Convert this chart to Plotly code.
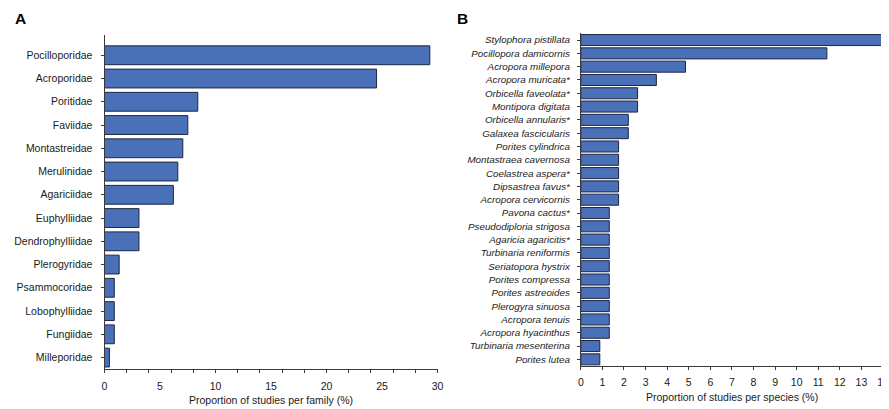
import plotly.graph_objects as go

# ---- Data ----
families = ["Pocilloporidae", "Acroporidae", "Poritidae", "Faviidae", "Montastreidae",
            "Merulinidae", "Agariciidae", "Euphylliidae", "Dendrophylliidae", "Plerogyridae",
            "Psammocoridae", "Lobophylliidae", "Fungiidae", "Milleporidae"]
family_pct = [29.3, 24.5, 8.4, 7.5, 7.05, 6.6, 6.2, 3.1, 3.1, 1.32, 0.88, 0.88, 0.88, 0.44]

species = ["Stylophora pistillata", "Pocillopora damicornis", "Acropora millepora",
           "Acropora muricata*", "Orbicella faveolata*", "Montipora digitata",
           "Orbicella annularis*", "Galaxea fascicularis", "Porites cylindrica",
           "Montastraea cavernosa", "Coelastrea aspera*", "Dipsastrea favus*",
           "Acropora cervicornis", "Pavona cactus*", "Pseudodiploria strigosa",
           "Agaricia agaricitis*", "Turbinaria reniformis", "Seriatopora hystrix",
           "Porites compressa", "Porites astreoides", "Plerogyra sinuosa",
           "Acropora tenuis", "Acropora hyacinthus", "Turbinaria mesenterina", "Porites lutea"]
species_pct = [14.0, 11.4, 4.85, 3.5, 2.63, 2.63, 2.2, 2.2, 1.75, 1.75, 1.75, 1.75, 1.75,
               1.32, 1.32, 1.32, 1.32, 1.32, 1.32, 1.32, 1.32, 1.32, 1.32, 0.88, 0.88]

family_ticks = [0, 5, 10, 15, 20, 25, 30]
species_ticks = list(range(0, 15))

BAR = "#4a70b8"
EDGE = "#1c2742"
AX = "#3a3a3a"
TXT = "#1a1a1a"
FONT = "Liberation Sans, Arial, sans-serif"

# the page body has an 8px margin; the figure fills the rest of the 889x409 window
OFF = 8
W, H = 889 - OFF, 409 - OFF


def px(xp):
    return (xp - OFF) / W


def py(yp):
    return 1 - (yp - OFF) / H


fig = go.Figure()
fig.add_trace(go.Bar(x=family_pct, y=families, orientation="h", xaxis="x", yaxis="y",
                     marker=dict(color=BAR, line=dict(color=EDGE, width=1)), width=0.81,
                     hoverinfo="x+y"))
fig.add_trace(go.Bar(x=species_pct, y=species, orientation="h", xaxis="x2", yaxis="y2",
                     marker=dict(color=BAR, line=dict(color=EDGE, width=1)), width=0.83,
                     hoverinfo="x+y"))
# invisible helper trace so the tick-mark overlay axis is drawn
fig.add_trace(go.Scatter(x=[0], y=[families[0]], xaxis="x3", yaxis="y", mode="markers",
                         marker=dict(opacity=0), hoverinfo="skip", showlegend=False))

common_x = dict(showgrid=False, zeroline=False, showline=True, linecolor=AX, linewidth=1,
                tickfont=dict(family=FONT, size=10.5, color=TXT), fixedrange=True)
common_y = dict(showgrid=False, zeroline=False, showline=True, linecolor=AX, linewidth=1,
                ticks="outside", ticklen=3, tickcolor=AX, autorange="reversed",
                type="category", fixedrange=True)

fig.update_layout(
    width=W, height=H,
    margin=dict(l=0, r=0, t=0, b=0),
    paper_bgcolor="white", plot_bgcolor="white",
    showlegend=False,
    xaxis=dict(domain=[px(102.5), px(439)], anchor="y", range=[0, 30],
               tickvals=family_ticks, ticks="", ticklabelstandoff=7, **common_x),
    xaxis3=dict(overlaying="x", anchor="y", range=[0, 30], tick0=0, dtick=2,
                ticks="outside", ticklen=3, tickcolor=AX, showticklabels=False,
                showgrid=False, zeroline=False, showline=False, fixedrange=True),
    yaxis=dict(domain=[py(369.2), py(34.8)], anchor="x", categoryarray=families,
               categoryorder="array", ticklabelstandoff=6,
               tickfont=dict(family=FONT, size=10.5, color=TXT), **common_y),
    xaxis2=dict(domain=[px(583.7), 1.0], anchor="y2", range=[0, 14],
                tickvals=species_ticks, ticks="outside", ticklen=3, tickcolor=AX,
                ticklabelstandoff=3, **common_x),
    yaxis2=dict(domain=[py(366.0), py(33.4)], anchor="x2", categoryarray=species,
                categoryorder="array", ticklabelstandoff=5,
                tickfont=dict(family=FONT, size=9.8, color=TXT, style="italic"), **common_y),
    annotations=[
        dict(text="<b>A</b>", x=px(10.5), y=py(8.5), xref="paper", yref="paper", showarrow=False,
             xanchor="left", yanchor="top", font=dict(family=FONT, size=15.5, color="black")),
        dict(text="<b>B</b>", x=px(457), y=py(8.5), xref="paper", yref="paper", showarrow=False,
             xanchor="left", yanchor="top", font=dict(family=FONT, size=15.5, color="black")),
        dict(text="Proportion of studies per family (%)", x=px(270.7), y=py(400),
             xref="paper", yref="paper", showarrow=False, xanchor="center", yanchor="middle",
             font=dict(family=FONT, size=10.5, color=TXT)),
        dict(text="Proportion of studies per species (%)", x=px(736.4), y=py(397),
             xref="paper", yref="paper", showarrow=False, xanchor="center", yanchor="middle",
             font=dict(family=FONT, size=10.5, color=TXT)),
    ],
)

fig.write_html("out.html")
